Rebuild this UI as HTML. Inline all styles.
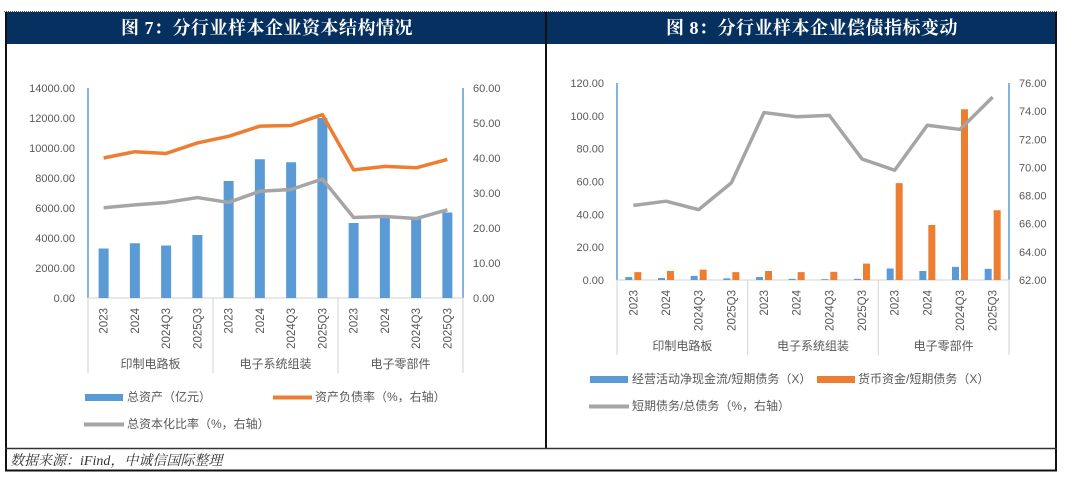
<!DOCTYPE html>
<html><head><meta charset="utf-8"><style>
html,body{margin:0;padding:0;background:#fff;width:1080px;height:481px;overflow:hidden}
svg text{font-family:"Liberation Sans","Noto Sans CJK SC",sans-serif}
</style></head><body>
<svg id="s" width="1080" height="481" xmlns="http://www.w3.org/2000/svg">
<line x1="4" y1="11.5" x2="1058" y2="11.5" stroke="#555" stroke-width="1" stroke-dasharray="1,1"/>
<rect x="5" y="12" width="1052" height="32" fill="#06305f"/>
<text x="267" y="34" text-anchor="middle" fill="#fff" font-size="18" letter-spacing="0.5" font-weight="bold" style="font-family:'Liberation Serif','Noto Serif CJK SC',serif">图 7：分行业样本企业资本结构情况</text>
<text x="812" y="34" text-anchor="middle" fill="#fff" font-size="18" letter-spacing="0.5" font-weight="bold" style="font-family:'Liberation Serif','Noto Serif CJK SC',serif">图 8：分行业样本企业偿债指标变动</text>
<line x1="6" y1="12" x2="6" y2="471" stroke="#111" stroke-width="2"/>
<line x1="546" y1="12" x2="546" y2="448" stroke="#111" stroke-width="2"/>
<line x1="1056" y1="12" x2="1056" y2="471" stroke="#111" stroke-width="2"/>
<line x1="5" y1="448.5" x2="1057" y2="448.5" stroke="#333" stroke-width="1.5"/>
<line x1="5" y1="470.5" x2="1057" y2="470.5" stroke="#111" stroke-width="2"/>
<text x="10" y="465" font-size="14" font-style="italic" fill="#333" style="font-family:'Liberation Serif','Noto Serif CJK SC',serif">数据来源：iFind，中诚信国际整理</text>
<g id="c1"></g>
<g id="c2"></g>
</svg>
<script>
const cats = ["2023","2024","2024Q3","2025Q3","2023","2024","2024Q3","2025Q3","2023","2024","2024Q3","2025Q3"];
const groups = ["印制电路板","电子系统组装","电子零部件"];
const assets = [3300,3650,3500,4200,7800,9250,9050,12000,5000,5400,5300,5700];
const debtRatio = [40.0,41.8,41.3,44.3,46.2,49.1,49.3,52.4,36.6,37.6,37.2,39.6];
const capRatio = [25.8,26.6,27.3,28.7,27.3,30.5,31.0,34.0,23.0,23.3,22.7,25.2];
const c1LeftTicks = [0,2000,4000,6000,8000,10000,12000,14000];
const c1RightTicks = [0,10,20,30,40,50,60];
const cashFlow = [1.8,1.2,2.5,1.0,1.8,0.7,0.5,0.7,7.0,5.5,8.0,6.8];
const monetary = [4.8,5.5,6.3,4.8,5.5,4.8,5.0,10.0,59,33.5,104,42.5];
const shortDebt = [67.3,67.6,67.0,68.9,73.9,73.6,73.7,70.6,69.8,73.0,72.7,75.0];
const c2LeftTicks = [0,20,40,60,80,100,120];
const c2RightTicks = [62,64,66,68,70,72,74,76];

const NS="http://www.w3.org/2000/svg";
function mk(p,tag,a){const e=document.createElementNS(NS,tag);for(const k in a)e.setAttribute(k,a[k]);p.appendChild(e);return e;}
function txt(p,x,y,s,a){const e=mk(p,"text",Object.assign({x:x,y:y,"font-size":11,fill:"#595959"},a||{}));e.textContent=s;return e;}

function frame(g,x0,x1,y0,y1,lt,lmax,lmin,rt,rmax,rmin,sepBottom,grpY,yrTop){
  const n=cats.length,bw=(x1-x0)/n;
  const ly=v=>y1-(v-lmin)/(lmax-lmin)*(y1-y0);
  const ry=v=>y1-(v-rmin)/(rmax-rmin)*(y1-y0);
  const cx=i=>x0+bw*(i+0.5);
  lt.forEach(v=>{const t=txt(g,x0-13,ly(v)+4,v.toFixed(2),{"text-anchor":"end"});
    
    });
  rt.forEach(v=>{const t=txt(g,x1+10,ry(v)+4,v.toFixed(2));
    
    });
  let a=mk(g,"line",{x1:x0,y1:y0,x2:x0,y2:y1,stroke:"#5b9bd5","stroke-width":1.5});
  
  
  a=mk(g,"line",{x1:x1,y1:y0,x2:x1,y2:y1,stroke:"#5b9bd5","stroke-width":1.5});
  
  
  a=mk(g,"line",{x1:x0,y1:y1,x2:x1,y2:y1,stroke:"#d9d9d9","stroke-width":1.2});
  
  
  for(let k=0;k<=groups.length;k++){const x=x0+k*4*bw;
    const l=mk(g,"line",{x1:x,y1:y1,x2:x,y2:sepBottom,stroke:"#d9d9d9","stroke-width":1.2});
    
    }
  groups.forEach((s,k)=>{const t=txt(g,x0+(k*4+2)*bw,grpY,s,{"text-anchor":"middle","font-size":12});
    
    });
  cats.forEach((s,i)=>{const x=cx(i)+4,y=yrTop;
    const t=txt(g,x,y,s,{"text-anchor":"end",transform:`rotate(-90 ${x} ${y})`,"font-size":11.5});
    
    });
  return {ly,ry,cx,bw};
}
function line(g,vals,f,cx,color,name){
  const p=mk(g,"polyline",{points:vals.map((v,i)=>cx(i)+","+f(v)).join(" "),fill:"none",stroke:color,"stroke-width":3.5,"stroke-linejoin":"round"});
  
  
}

// Chart 7
(function(){
  const g=document.getElementById("c1");
  const A=frame(g,88,463,88,298,c1LeftTicks,14000,0,c1RightTicks,60,0,373,368,308);
  assets.forEach((v,i)=>{const r=mk(g,"rect",{x:A.cx(i)-5,y:A.ly(v),width:10,height:298-A.ly(v),fill:"#5b9bd5"});
    
    });
  line(g,debtRatio,A.ry,A.cx,"#ed7d31","line-debt-ratio");
  line(g,capRatio,A.ry,A.cx,"#a5a5a5","line-capitalization-ratio");
  let r=mk(g,"rect",{x:85,y:394,width:38,height:7,fill:"#5b9bd5"});
  
  
  let t=txt(g,127,401,"总资产（亿元）",{"font-size":12});
  
  
  r=mk(g,"line",{x1:273,y1:397.5,x2:312,y2:397.5,stroke:"#ed7d31","stroke-width":4});
  
  
  t=txt(g,315,401,"资产负债率（%，右轴）",{"font-size":12});
  
  
  r=mk(g,"line",{x1:84,y1:424.5,x2:124,y2:424.5,stroke:"#a5a5a5","stroke-width":4});
  
  
  t=txt(g,127,428,"总资本化比率（%，右轴）",{"font-size":12});
  
  
})();

// Chart 8
(function(){
  const g=document.getElementById("c2");
  const A=frame(g,617,1009,83,280,c2LeftTicks,120,0,c2RightTicks,76,62,355,350,290);
  cashFlow.forEach((v,i)=>{const r=mk(g,"rect",{x:A.cx(i)-8,y:A.ly(v),width:7,height:280-A.ly(v),fill:"#5b9bd5"});
    
    });
  monetary.forEach((v,i)=>{const r=mk(g,"rect",{x:A.cx(i)+1,y:A.ly(v),width:7,height:280-A.ly(v),fill:"#ed7d31"});
    
    });
  line(g,shortDebt,A.ry,A.cx,"#a5a5a5","line-short-debt-share");
  let r=mk(g,"rect",{x:590,y:376,width:38,height:7,fill:"#5b9bd5"});
  
  
  let t=txt(g,632,383,"经营活动净现金流/短期债务（X）",{"font-size":12});
  
  
  r=mk(g,"rect",{x:817,y:376,width:38,height:7,fill:"#ed7d31"});
  
  
  t=txt(g,858,383,"货币资金/短期债务（X）",{"font-size":12});
  
  
  r=mk(g,"line",{x1:589,y1:406.5,x2:629,y2:406.5,stroke:"#a5a5a5","stroke-width":4});
  
  
  t=txt(g,632,410,"短期债务/总债务（%，右轴）",{"font-size":12});
  
  
})();
</script>
</body></html>
